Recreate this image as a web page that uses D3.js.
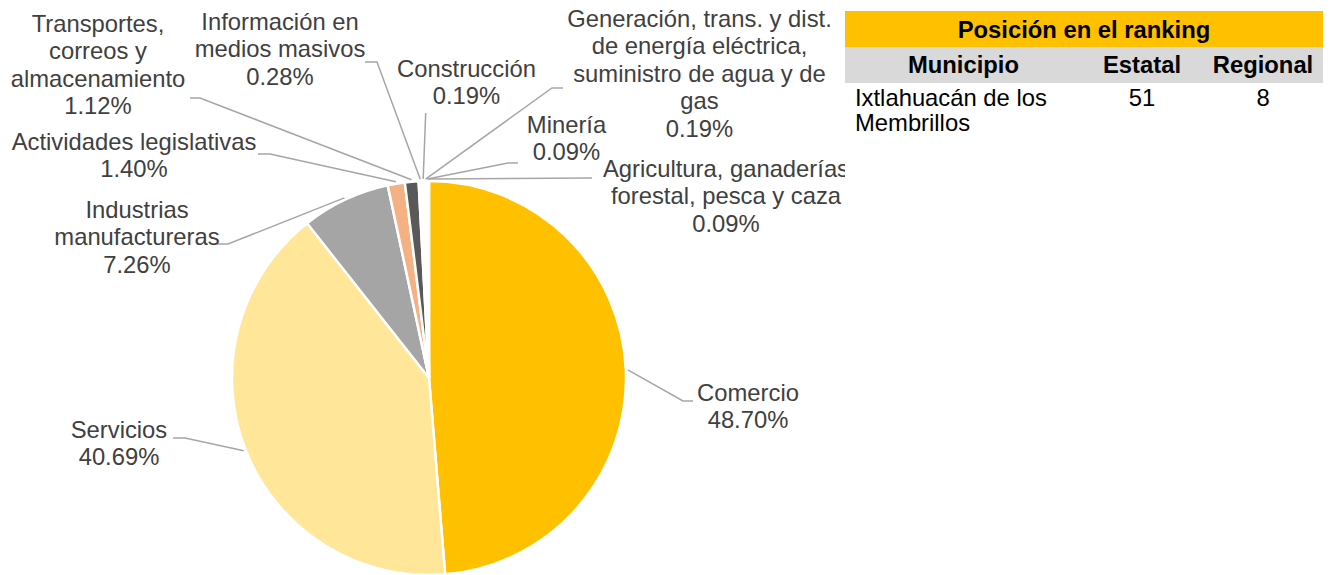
<!DOCTYPE html>
<html>
<head>
<meta charset="utf-8">
<script src="https://cdn.jsdelivr.net/npm/d3@7"></script>
<style>
  html, body { margin: 0; padding: 0; background: #fff; }
  svg { display: block; font-family: "Liberation Sans", Arial, sans-serif; }
</style>
</head>
<body>
<svg id="chart" width="1331" height="575"></svg>
<script>
// ---- data ----
const categories = ["Comercio", "Servicios", "Industrias manufactureras", "Actividades legislativas",
  "Transportes, correos y almacenamiento", "Información en medios masivos", "Construcción",
  "Generación, trans. y dist. de energía eléctrica, suministro de agua y de gas", "Minería",
  "Agricultura, ganaderías forestal, pesca y caza"];
const values = [48.70, 40.69, 7.26, 1.40, 1.12, 0.28, 0.19, 0.19, 0.09, 0.09];
const labelLines = [
  ["Comercio"], ["Servicios"], ["Industrias", "manufactureras"], ["Actividades legislativas"],
  ["Transportes,", "correos y", "almacenamiento"], ["Información en", "medios masivos"], ["Construcción"],
  ["Generación, trans. y dist.", "de energía eléctrica,", "suministro de agua y de", "gas"], ["Minería"],
  ["Agricultura, ganaderías", "forestal, pesca y caza"]
];
const colors = ["#FFC000", "#FFE699", "#A5A5A5", "#F4B183", "#595959", "#FFFFFF", "#FFFFFF", "#FFFFFF", "#FFFFFF", "#FFFFFF"];

const tableTitle = "Posición en el ranking";
const tableHeaders = ["Municipio", "Estatal", "Regional"];
const tableRow = [["Ixtlahuacán de los", "Membrillos"], ["51"], ["8"]];

// ---- layout (label placement) ----
const labelLayout = [
  { x: 748, y: 401, bend: [[683, 401], [693, 401]] },
  { x: 119, y: 438, bend: [[185, 438], [173, 438]] },
  { x: 137, y: 218, bend: [[228, 244], [217, 244]] },
  { x: 134, y: 150, bend: [[270, 154], [258, 154]] },
  { x: 98, y: 32, bend: [[200, 98], [190, 98]] },
  { x: 280, y: 30, bend: [[377, 62], [365, 62]] },
  { x: 466.5, y: 77, bend: [[425.7, 113]] },
  { x: 699.5, y: 27, bend: [[552, 88], [563, 88]] },
  { x: 566.5, y: 133, bend: [[508, 163], [518, 163]] },
  { x: 726, y: 177, bend: [[592, 178]] }
];

const svg = d3.select("#chart");
const cx = 429, cy = 378, r = 197;
const fontSize = 23.8, lineH = 27.4;

svg.append("defs").append("clipPath").attr("id", "chartClip")
  .append("rect").attr("x", 0).attr("y", 0).attr("width", 845).attr("height", 575);

const chartG = svg.append("g").attr("clip-path", "url(#chartClip)");
const g = chartG.append("g").attr("transform", `translate(${cx},${cy})`);

const pie = d3.pie().sort(null).value(d => d.v);
const arcs = pie(values.map((v, i) => ({ v, i })));
const arc = d3.arc().innerRadius(0).outerRadius(r);

g.selectAll("path.slice").data(arcs).enter().append("path")
  .attr("class", "slice")
  .attr("d", arc)
  .attr("fill", d => colors[d.data.i])
  .attr("stroke", "#fff")
  .attr("stroke-width", 2.5);

// leader lines
arcs.forEach(d => {
  const i = d.data.i;
  const a = (d.startAngle + d.endAngle) / 2;
  const rr = r + 2;
  const start = [cx + rr * Math.sin(a), cy - rr * Math.cos(a)];
  const pts = [start].concat(labelLayout[i].bend);
  chartG.append("path")
    .attr("d", d3.line()(pts))
    .attr("fill", "none")
    .attr("stroke", "#A6A6A6")
    .attr("stroke-width", 1.5);
});

// labels
arcs.forEach(d => {
  const i = d.data.i;
  const L = labelLayout[i];
  const lines = labelLines[i].concat([values[i].toFixed(2) + "%"]);
  const t = chartG.append("text")
    .attr("text-anchor", "middle")
    .attr("font-size", fontSize)
    .attr("fill", "#404040");
  lines.forEach((s, k) => {
    t.append("tspan").attr("x", L.x).attr("y", L.y + k * lineH).text(s);
  });
});

// ---- table ----
const tX0 = 845, tX1 = 1323;
const colX = [963.5, 1142, 1263];
svg.append("rect").attr("x", tX0).attr("y", 11).attr("width", tX1 - tX0).attr("height", 36).attr("fill", "#FFC000");
svg.append("rect").attr("x", tX0).attr("y", 47).attr("width", tX1 - tX0).attr("height", 36).attr("fill", "#D9D9D9");
svg.append("text").attr("x", (tX0 + tX1) / 2).attr("y", 38)
  .attr("text-anchor", "middle").attr("font-weight", "bold").attr("font-size", fontSize)
  .attr("fill", "#000").text(tableTitle);
tableHeaders.forEach((h, k) => {
  svg.append("text").attr("x", colX[k]).attr("y", 73)
    .attr("text-anchor", "middle").attr("font-weight", "bold").attr("font-size", fontSize)
    .attr("fill", "#000").text(h);
});
tableRow.forEach((cell, k) => {
  const t = svg.append("text").attr("font-size", fontSize).attr("fill", "#000")
    .attr("text-anchor", k === 0 ? "start" : "middle");
  cell.forEach((s, j) => {
    t.append("tspan").attr("x", k === 0 ? 855 : colX[k]).attr("y", 106 + j * 25).text(s);
  });
});
</script>
</body>
</html>
